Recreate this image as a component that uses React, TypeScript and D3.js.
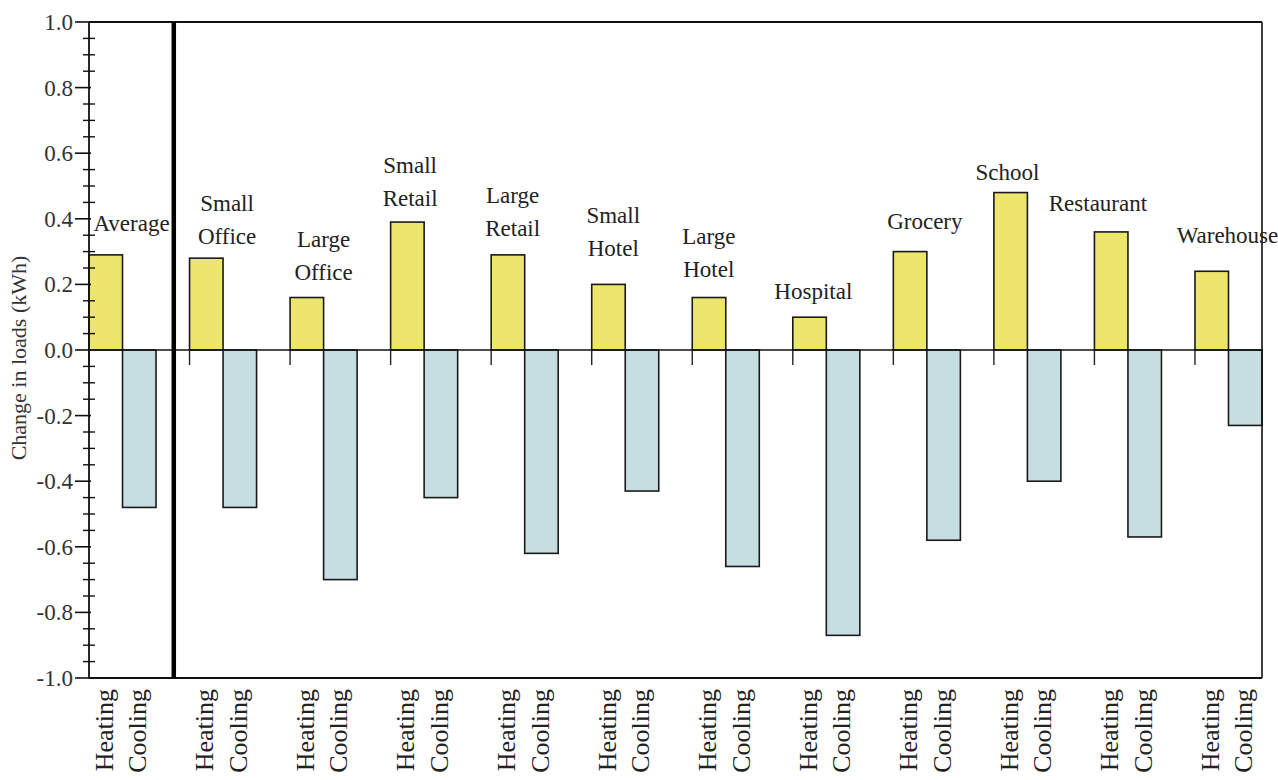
import React from "react";
import * as d3 from "d3";

const categories = ["Average", "Small Office", "Large Office", "Small Retail", "Large Retail", "Small Hotel", "Large Hotel", "Hospital", "Grocery", "School", "Restaurant", "Warehouse"];
const heating = [0.29, 0.28, 0.16, 0.39, 0.29, 0.2, 0.16, 0.1, 0.3, 0.48, 0.36, 0.24];
const cooling = [-0.48, -0.48, -0.7, -0.45, -0.62, -0.43, -0.66, -0.87, -0.58, -0.4, -0.57, -0.23];
const seriesNames = ["Heating", "Cooling"];
const majorTicks = [-1.0, -0.8, -0.6, -0.4, -0.2, 0.0, 0.2, 0.4, 0.6, 0.8, 1.0];
const yTitle = "Change in loads (kWh)";

// layout nudges for the category labels (dx from heating/cooling boundary, dy of last baseline from bar top)
const labelDx = [9, 4, 0, -14, -12, -12, -17, -13, -2, -20, -30, -1];
const labelDy = [-24, -14, -18, -16, -19, -28, -21, -18, -23, -13, -21, -28];

const W = 1278, H = 780;
const left = 89, right = 1262, top = 22, bottom = 678;
const FONT = "'Liberation Serif', 'Times New Roman', serif";

export default function App() {
  const slot = (right - left) / 35;
  const x = d3.scaleBand<string>().domain(categories).range([left, left + 36 * slot]).padding(0);
  const bw = slot;
  const y = d3.scaleLinear().domain([-1, 1]).range([bottom, top]);
  const minor = d3.range(-1, 1.0001, 0.05).filter((v) => Math.abs(Math.round(v * 5) - v * 5) > 1e-6);
  const fmt = (v: number) => d3.format(".1f")(v).replace("\u2212", "-");
  const y0 = y(0);
  const divider = left + 2.5 * slot + 1;

  return (
    <svg width={W} height={H} style={{ position: "absolute", left: 0, top: 0, background: "#fff" }} fontFamily={FONT}>
      <rect x={0} y={0} width={W} height={H} fill="#fff" />
      {/* bars */}
      {categories.map((c, i) => {
        const gx = x(c)!;
        const h = heating[i], co = cooling[i];
        return (
          <g key={c}>
            <rect x={gx} y={y(Math.max(0, h))} width={bw} height={Math.abs(y(h) - y0)} fill="#ECE66C" stroke="#1a1a1a" strokeWidth={1.6} />
            <rect x={gx + bw} y={y(Math.max(0, co))} width={bw} height={Math.abs(y(co) - y0)} fill="#C6DEE2" stroke="#1a1a1a" strokeWidth={1.6} />
            <line x1={gx} x2={gx} y1={y0} y2={y0 + 15} stroke="#222" strokeWidth={1.4} />
          </g>
        );
      })}
      {/* zero line */}
      <line x1={left} x2={right} y1={y0} y2={y0} stroke="#111" strokeWidth={1.4} />
      {/* frame */}
      <line x1={left} x2={right} y1={top} y2={top} stroke="#111" strokeWidth={1.8} />
      <line x1={left} x2={right} y1={bottom} y2={bottom} stroke="#111" strokeWidth={1.8} />
      <line x1={right} x2={right} y1={top} y2={bottom} stroke="#111" strokeWidth={1.6} />
      <line x1={left} x2={left} y1={top} y2={bottom} stroke="#111" strokeWidth={1.8} />
      {/* thick divider */}
      <line x1={divider} x2={divider} y1={top} y2={bottom} stroke="#000" strokeWidth={4.5} />
      {/* y ticks */}
      {minor.map((v) => (
        <line key={"m" + v} x1={left - 6} x2={left + 6} y1={y(v)} y2={y(v)} stroke="#111" strokeWidth={1.4} />
      ))}
      {majorTicks.map((v) => (
        <g key={"M" + v}>
          <line x1={left - 14} x2={left + 2} y1={y(v)} y2={y(v)} stroke="#111" strokeWidth={1.6} />
          <text x={left - 16} y={y(v)} dy="0.35em" textAnchor="end" fontSize={23} fill="#333">{fmt(v)}</text>
        </g>
      ))}
      {/* y title */}
      <text transform={`translate(${26},${(top + bottom) / 2 + 8}) rotate(-90)`} textAnchor="middle" fontSize={22} fill="#333">{yTitle}</text>
      {/* category labels */}
      {categories.map((c, i) => {
        const words = c.split(" ");
        const cx = x(c)! + bw + labelDx[i];
        const base = y(heating[i]) + labelDy[i];
        return (
          <text key={"l" + c} textAnchor="middle" fontSize={23} fill="#222">
            {words.map((w, k) => (
              <tspan key={k} x={cx} y={base - (words.length - 1 - k) * 33}>{w}</tspan>
            ))}
          </text>
        );
      })}
      {/* bottom series labels */}
      {categories.map((c, i) =>
        seriesNames.map((s, k) => {
          const cx = x(c)! + bw * k + bw / 2 - 2;
          return (
            <text key={c + s} transform={`translate(${cx},${689}) rotate(-90)`} dy="0.35em" textAnchor="end" fontSize={26} fill="#222">{s}</text>
          );
        })
      )}
    </svg>
  );
}
